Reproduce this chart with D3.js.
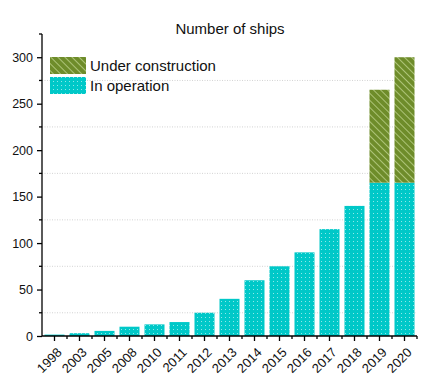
<!DOCTYPE html>
<html>
<head>
<meta charset="utf-8">
<script src="https://cdn.jsdelivr.net/npm/d3@7"></script>
<style>
  body { margin: 0; background: #fff; }
  svg { display: block; font-family: "Liberation Sans", Arial, sans-serif; }
</style>
</head>
<body>
<svg id="chart" width="439" height="381"></svg>
<script>
const years = ["1998", "2003", "2005", "2008", "2010", "2011", "2012", "2013", "2014", "2015", "2016", "2017", "2018", "2019", "2020"];
const inOperation = [1.5, 3, 5.5, 10, 12.5, 15, 25, 40, 60, 75, 90, 115, 140, 165, 165];
const underConstruction = [0, 0, 0, 0, 0, 0, 0, 0, 0, 0, 0, 0, 0, 100, 135];
const seriesNames = ["Under construction", "In operation"];
const yTicks = [0, 50, 100, 150, 200, 250, 300];
const yMinor = [25, 75, 125, 175, 225, 275, 325];

function renderChart() {
    const svg = d3.select("#chart");
    const margin = { left: 42, right: 22, top: 34, bottom: 45 };
    const width = 439, height = 381;

    const x = d3.scaleBand()
        .domain(years)
        .range([margin.left, width - margin.right])
        .paddingInner(0.2)
        .paddingOuter(0.1);

    const y = d3.scaleLinear()
        .domain([0, 325])
        .range([height - margin.bottom, margin.top]);

    // patterns
    const defs = svg.append("defs");
    const dots = defs.append("pattern")
        .attr("id", "dots")
        .attr("patternUnits", "userSpaceOnUse")
        .attr("width", 4).attr("height", 4);
    dots.append("rect").attr("width", 4).attr("height", 4).attr("fill", "#00c8c8");
    dots.append("rect").attr("x", 1).attr("y", 1).attr("width", 1).attr("height", 1)
        .attr("fill", "#8ee8e8");

    const hatch = defs.append("pattern")
        .attr("id", "hatch")
        .attr("patternUnits", "userSpaceOnUse")
        .attr("width", 5).attr("height", 5)
        .attr("patternTransform", "rotate(-45)");
    hatch.append("rect").attr("width", 5).attr("height", 5).attr("fill", "#6e8c2a");
    hatch.append("line")
        .attr("x1", 0).attr("y1", 0).attr("x2", 0).attr("y2", 5)
        .attr("stroke", "#c8dc9a").attr("stroke-width", 1.4);

    // grid at minor ticks
    svg.append("g")
        .selectAll("line")
        .data(yMinor.filter(d => d < 325))
        .join("line")
        .attr("x1", margin.left)
        .attr("x2", width - margin.right)
        .attr("y1", d => y(d))
        .attr("y2", d => y(d))
        .attr("stroke", "#c8c8c8")
        .attr("stroke-width", 0.8)
        .attr("stroke-dasharray", "1,1.5");

    // bars
    svg.append("g")
        .selectAll("rect")
        .data(years.map((yr, i) => ({ yr, v: inOperation[i] })))
        .join("rect")
        .attr("x", d => x(d.yr))
        .attr("width", x.bandwidth())
        .attr("y", d => y(d.v))
        .attr("height", d => y(0) - y(d.v))
        .attr("fill", "url(#dots)");

    svg.append("g")
        .selectAll("rect")
        .data(years.map((yr, i) => ({ yr, lo: inOperation[i], hi: inOperation[i] + underConstruction[i] }))
            .filter(d => d.hi > d.lo))
        .join("rect")
        .attr("x", d => x(d.yr))
        .attr("width", x.bandwidth())
        .attr("y", d => y(d.hi))
        .attr("height", d => y(d.lo) - y(d.hi))
        .attr("fill", "url(#hatch)");

    // y axis
    const yAxis = svg.append("g")
        .attr("transform", `translate(${margin.left},0)`)
        .call(d3.axisLeft(y).tickValues(yTicks).tickSize(5).tickPadding(4));
    yAxis.select(".domain").attr("stroke-width", 1.3);
    yAxis.selectAll(".tick line").attr("stroke-width", 1.3);
    yAxis.selectAll("text").attr("font-size", 12.5).attr("fill", "#111")
        .attr("font-family", "Liberation Sans, Arial, sans-serif");
    yAxis.select(".domain").attr("d", `M-0,${y(325)}V${y(0)}`);
    yAxis.append("g")
        .selectAll("line")
        .data(yMinor)
        .join("line")
        .attr("x1", -3).attr("x2", 0)
        .attr("y1", d => y(d)).attr("y2", d => y(d))
        .attr("stroke", "#000").attr("stroke-width", 1.3);

    // x axis
    const xAxis = svg.append("g")
        .attr("transform", `translate(0,${y(0)})`)
        .call(d3.axisBottom(x).tickSize(5).tickPadding(3));
    xAxis.select(".domain").attr("d", `M${margin.left},0H${width - margin.right}`).attr("stroke-width", 1.3);
    xAxis.selectAll(".tick line").attr("stroke-width", 1.3);
    xAxis.selectAll("text")
        .attr("font-size", 13)
        .attr("fill", "#111")
        .attr("font-family", "Liberation Sans, Arial, sans-serif")
        .attr("text-anchor", "end")
        .attr("x", 0)
        .attr("y", 0)
        .attr("dy", "0.35em")
        .attr("transform", "translate(5,14) rotate(-45)");
    const step = x.step();
    const boundaries = years.map(yr => x(yr) + x.bandwidth() / 2 + step / 2);
    xAxis.append("g")
        .selectAll("line")
        .data(boundaries)
        .join("line")
        .attr("x1", d => d).attr("x2", d => d)
        .attr("y1", 0).attr("y2", 3)
        .attr("stroke", "#000").attr("stroke-width", 1.3);

    // title
    svg.append("text")
        .attr("x", 230)
        .attr("y", 34)
        .attr("text-anchor", "middle")
        .attr("font-size", 15)
        .attr("fill", "#111")
        .text("Number of ships");

    // legend
    const legend = svg.append("g");
    const fills = ["url(#hatch)", "url(#dots)"];
    seriesNames.forEach((name, i) => {
        legend.append("rect")
            .attr("x", 50).attr("y", 57 + i * 20)
            .attr("width", 36).attr("height", 17)
            .attr("fill", fills[i]);
        legend.append("text")
            .attr("x", 90).attr("y", 71 + i * 19.5)
            .attr("font-size", 15)
            .attr("fill", "#111")
            .text(name);
    });
}
renderChart();
</script>
</body>
</html>
